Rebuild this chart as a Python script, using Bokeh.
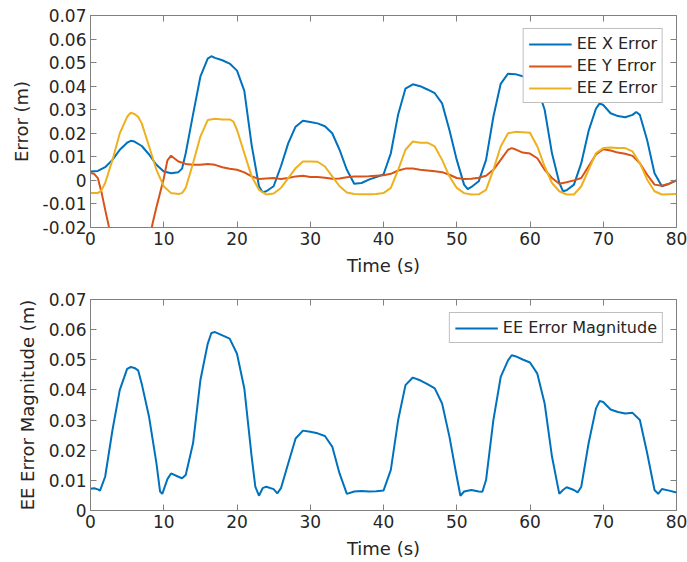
from bokeh.plotting import figure
from bokeh.layouts import column
from bokeh.models import Range1d, FixedTicker, LinearAxis, CustomJSTickFormatter
from bokeh.embed import file_html
from bokeh.resources import INLINE

# End-effector error components (m) over time (s)
tx = [0, 1, 2, 3, 4, 5, 5.5, 6, 7, 8,
      9, 10, 11, 12, 12.5, 13, 14, 15, 16, 16.5,
      17, 18, 19, 20, 21, 22, 23, 23.5, 24, 25,
      26, 27, 28, 29, 30, 31, 32, 33, 34, 35,
      36, 37, 38, 39, 40, 41, 42, 43, 44, 45,
      46, 47, 48, 49, 50, 51, 51.5, 52, 53, 54,
      55, 56, 57, 58, 59, 60, 61, 62, 63, 64,
      64.5, 65, 66, 67, 68, 69, 69.5, 70, 71, 72,
      73, 74, 74.5, 75, 76, 77, 78, 79, 80]
ex = [0.0038, 0.0040, 0.0056, 0.0087, 0.0130, 0.0160, 0.0168, 0.0165, 0.0146, 0.0110,
      0.0066, 0.0038, 0.0030, 0.0035, 0.0050, 0.0115, 0.0280, 0.0440, 0.0517, 0.0527,
      0.0520, 0.0510, 0.0496, 0.0466, 0.0380, 0.0150, -0.0025, -0.0050, -0.0046, -0.0025,
      0.0060, 0.0158, 0.0228, 0.0253, 0.0248, 0.0242, 0.0230, 0.0200, 0.0130, 0.0045,
      -0.0014, -0.0011, 0.0003, 0.0014, 0.0025, 0.0115, 0.0280, 0.0390, 0.0408, 0.0400,
      0.0386, 0.0370, 0.0327, 0.0214, 0.0087, -0.0018, -0.0037, -0.0028, -0.0004, 0.0087,
      0.0270, 0.0410, 0.0453, 0.0451, 0.0442, 0.0430, 0.0395, 0.0300, 0.0115, -0.0010,
      -0.0046, -0.0042, -0.0018, 0.0073, 0.0210, 0.0304, 0.0327, 0.0320, 0.0285, 0.0273,
      0.0268, 0.0278, 0.0290, 0.0278, 0.0170, 0.0030, -0.0025, -0.0014, 0.0000]

ty = [0, 0.5, 1, 1.5, 2, 2.5, 3, 4, 5, 6,
      7, 8, 8.5, 9, 10, 10.5, 11, 12, 13, 14,
      15, 16, 17, 18, 19, 20, 21, 22, 23, 24,
      25, 26, 27, 28, 29, 30, 31, 32, 33, 34,
      35, 36, 37, 38, 39, 40, 41, 42, 43, 44,
      45, 46, 47, 48, 49, 50, 51, 52, 53, 54,
      55, 56, 57, 57.5, 58, 59, 60, 61, 62, 63,
      64, 65, 66, 67, 68, 69, 70, 71, 72, 73,
      74, 75, 76, 77, 78, 79, 80]
ey = [0.0031, 0.0028, 0.0010, -0.0050, -0.0124, -0.0195, -0.0237, -0.0320, -0.0350, -0.0342,
      -0.0310, -0.0252, -0.0180, -0.0114, 0.0008, 0.0085, 0.0105, 0.0080, 0.0070, 0.0066,
      0.0066, 0.0070, 0.0066, 0.0056, 0.0049, 0.0045, 0.0034, 0.0017, 0.0006, 0.0008,
      0.0010, 0.0006, 0.0010, 0.0017, 0.0020, 0.0014, 0.0014, 0.0011, 0.0007, 0.0008,
      0.0013, 0.0017, 0.0017, 0.0018, 0.0020, 0.0022, 0.0028, 0.0042, 0.0050, 0.0050,
      0.0045, 0.0042, 0.0039, 0.0035, 0.0024, 0.0010, 0.0006, 0.0007, 0.0011, 0.0020,
      0.0045, 0.0087, 0.0130, 0.0137, 0.0132, 0.0118, 0.0114, 0.0094, 0.0045, 0.0010,
      -0.0014, -0.0008, 0.0000, 0.0010, 0.0060, 0.0110, 0.0132, 0.0127, 0.0118, 0.0113,
      0.0104, 0.0073, 0.0024, -0.0018, -0.0023, -0.0014, 0.0000]

tz = [0, 1, 1.5, 2, 3, 4, 5, 5.5, 6, 6.5,
      7, 8, 9, 10, 11, 12, 12.5, 13, 14, 15,
      16, 17, 18, 19, 19.5, 20, 21, 22, 23, 24,
      25, 26, 27, 28, 29, 30, 31, 32, 33, 34,
      35, 36, 37, 38, 39, 40, 41, 42, 43, 44,
      45, 46, 47, 48, 49, 50, 51, 52, 53, 54,
      55, 56, 57, 58, 59, 60, 61, 62, 63, 64,
      65, 66, 67, 68, 69, 70, 71, 72, 73, 74,
      75, 76, 77, 78, 79, 80]
ez = [-0.0054, -0.0054, -0.0042, -0.0011, 0.0087, 0.0200, 0.0270, 0.0287, 0.0282, 0.0270,
      0.0242, 0.0144, 0.0045, -0.0025, -0.0054, -0.0058, -0.0054, -0.0032, 0.0073, 0.0186,
      0.0256, 0.0262, 0.0259, 0.0259, 0.0250, 0.0215, 0.0115, 0.0017, -0.0040, -0.0060,
      -0.0056, -0.0032, 0.0010, 0.0052, 0.0080, 0.0080, 0.0079, 0.0059, 0.0017, -0.0025,
      -0.0051, -0.0058, -0.0059, -0.0059, -0.0058, -0.0054, -0.0032, 0.0045, 0.0130, 0.0165,
      0.0160, 0.0160, 0.0144, 0.0087, 0.0017, -0.0032, -0.0054, -0.0060, -0.0059, -0.0040,
      0.0045, 0.0144, 0.0200, 0.0206, 0.0204, 0.0202, 0.0144, 0.0059, -0.0011, -0.0046,
      -0.0060, -0.0060, -0.0025, 0.0045, 0.0115, 0.0137, 0.0140, 0.0138, 0.0137, 0.0123,
      0.0073, 0.0003, -0.0046, -0.0060, -0.0059, -0.0058]

# Error magnitude (m)
tm = [0, 0.5, 1, 1.3, 2, 3, 4, 5, 5.5, 6,
      6.5, 7, 8, 9, 9.5, 9.8, 10.5, 11, 12, 12.5,
      13, 14, 15, 16, 16.5, 17, 18, 19, 20, 21,
      22, 22.5, 23, 23.5, 24, 25, 25.5, 26, 27, 28,
      29, 30, 31, 32, 33, 34, 35, 36, 37, 38,
      39, 40, 41, 42, 43, 44, 45, 46, 47, 48,
      49, 50, 50.5, 51, 52, 53, 53.5, 54, 55, 56,
      57, 57.5, 58, 59, 60, 61, 62, 63, 64, 64.5,
      65, 66, 66.5, 67, 68, 69, 69.5, 70, 71, 72,
      73, 74, 75, 76, 77, 77.5, 78, 79, 80]
em = [0.0072, 0.0074, 0.0070, 0.0066, 0.0112, 0.0267, 0.0400, 0.0470, 0.0476, 0.0473,
      0.0465, 0.0420, 0.0310, 0.0157, 0.0063, 0.0055, 0.0104, 0.0123, 0.0112, 0.0107,
      0.0118, 0.0223, 0.0432, 0.0553, 0.0589, 0.0592, 0.0581, 0.0570, 0.0520, 0.0405,
      0.0179, 0.0079, 0.0049, 0.0074, 0.0079, 0.0071, 0.0057, 0.0074, 0.0157, 0.0239,
      0.0265, 0.0261, 0.0256, 0.0247, 0.0212, 0.0123, 0.0055, 0.0063, 0.0065, 0.0063,
      0.0064, 0.0066, 0.0135, 0.0300, 0.0416, 0.0441, 0.0432, 0.0419, 0.0405, 0.0355,
      0.0245, 0.0112, 0.0049, 0.0063, 0.0068, 0.0063, 0.0062, 0.0101, 0.0300, 0.0443,
      0.0498, 0.0515, 0.0512, 0.0501, 0.0491, 0.0454, 0.0355, 0.0179, 0.0055, 0.0068,
      0.0077, 0.0068, 0.0060, 0.0079, 0.0223, 0.0338, 0.0363, 0.0360, 0.0335, 0.0327,
      0.0322, 0.0324, 0.0300, 0.0190, 0.0068, 0.0055, 0.0071, 0.0066, 0.0060]

x_ticks = [0, 10, 20, 30, 40, 50, 60, 70, 80]
y_ticks_top = [-0.02, -0.01, 0, 0.01, 0.02, 0.03, 0.04, 0.05, 0.06, 0.07]
y_ticks_bottom = [0, 0.01, 0.02, 0.03, 0.04, 0.05, 0.06, 0.07]

BLUE, RED, YELLOW = "#0072BD", "#D95319", "#EDB120"
FONT = "DejaVu Sans"
TEXT = "#262626"
FRAME = "#808080"

y_fmt = CustomJSTickFormatter(code="""
    const v = Math.round(tick * 100) / 100;
    return Math.abs(v) < 1e-9 ? "0" : v.toFixed(2);
""")


def make_axes(height, y_range, y_ticks, ylabel, border_top, border_bottom):
    p = figure(width=687, height=height, output_backend="svg", toolbar_location=None,
               x_range=Range1d(0, 80), y_range=Range1d(*y_range),
               min_border_left=90, min_border_right=11,
               min_border_top=border_top, min_border_bottom=border_bottom,
               background_fill_color="white", border_fill_color="white")
    p.xgrid.visible = False
    p.ygrid.visible = False
    p.outline_line_color = FRAME
    p.outline_line_width = 1

    p.xaxis.ticker = FixedTicker(ticks=x_ticks)
    p.yaxis.ticker = FixedTicker(ticks=y_ticks)
    p.yaxis.formatter = y_fmt
    p.xaxis.axis_label = "Time (s)"
    p.yaxis.axis_label = ylabel
    for ax in (p.xaxis, p.yaxis):
        ax.axis_line_color = FRAME
        ax.major_tick_line_color = FRAME
        ax.major_tick_in = 6
        ax.major_tick_out = 0
        ax.minor_tick_line_color = None
        ax.major_label_text_font = FONT
        ax.major_label_text_font_size = "17px"
        ax.major_label_text_color = TEXT
        ax.axis_label_text_font = FONT
        ax.axis_label_text_font_size = "18px"
        ax.axis_label_text_font_style = "normal"
        ax.axis_label_text_color = TEXT
        ax.major_label_standoff = 4
    p.xaxis.axis_label_standoff = 7
    p.yaxis.axis_label_standoff = 8

    # tick marks on the top and right edges of the box (no labels there)
    for loc, ticks in (("above", x_ticks), ("right", y_ticks)):
        ax = LinearAxis(ticker=FixedTicker(ticks=ticks),
                        major_label_text_font_size="1px", major_label_text_color=None,
                        major_label_standoff=0,
                        major_tick_in=6, major_tick_out=0,
                        major_tick_line_color=FRAME, minor_tick_line_color=None,
                        axis_line_color=None)
        p.add_layout(ax, loc)
    return p


def style_legend(p):
    lg = p.legend[0]
    lg.location = "top_right"
    lg.margin = 13
    lg.padding = 5
    lg.spacing = 3
    lg.glyph_width = 43
    lg.glyph_height = 18
    lg.label_height = 18
    lg.label_standoff = 5
    lg.label_text_font = FONT
    lg.label_text_font_size = "16px"
    lg.label_text_color = TEXT
    lg.border_line_color = FRAME
    lg.border_line_width = 1
    lg.background_fill_color = "white"
    lg.background_fill_alpha = 1.0


top = make_axes(283, (-0.02, 0.07), y_ticks_top, "Error (m)", 15, 56)
top.line(tx, ex, color=BLUE, line_width=2, legend_label="EE X Error")
top.line(ty, ey, color=RED, line_width=2, legend_label="EE Y Error")
top.line(tz, ez, color=YELLOW, line_width=2, legend_label="EE Z Error")
style_legend(top)

bottom = make_axes(279, (0, 0.07), y_ticks_bottom, "EE Error Magnitude (m)", 16, 52)
bottom.line(tm, em, color=BLUE, line_width=2, legend_label="EE Error Magnitude")
style_legend(bottom)

layout = column(top, bottom, spacing=0)

with open("out.html", "w") as f:
    f.write(file_html(layout, INLINE))
